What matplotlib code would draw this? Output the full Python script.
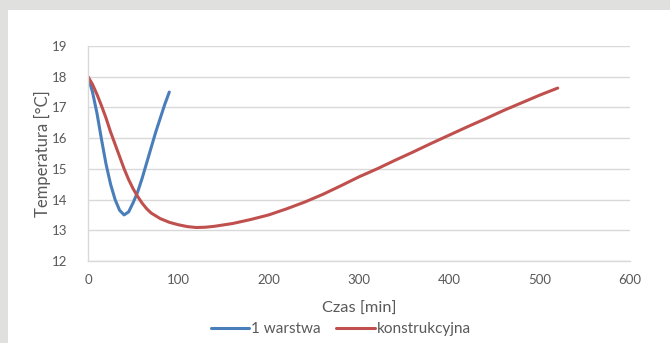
import matplotlib.pyplot as plt
from matplotlib.patches import Rectangle

# czas [min] i temperatura [°C] dla obu wariantów
czas_1w = [0, 5, 10, 15, 20, 25, 30, 35, 40, 45, 50, 55, 60, 65, 70, 75, 80, 85, 90]
temp_1w = [18.0, 17.5, 16.8, 15.95, 15.15, 14.5, 14.0, 13.65, 13.5, 13.6, 13.9, 14.25,
           14.7, 15.2, 15.7, 16.2, 16.65, 17.1, 17.5]

czas_k = [0, 5, 10, 15, 20, 25, 30, 35, 40, 45, 50, 55, 60, 65, 70, 80, 90, 100, 110,
          120, 130, 140, 160, 180, 200, 220, 240, 260, 280, 300, 320, 340, 360, 380,
          400, 420, 440, 460, 480, 500, 520]
temp_k = [18.0, 17.75, 17.42, 17.05, 16.65, 16.2, 15.8, 15.4, 15.0, 14.65, 14.35, 14.1,
          13.88, 13.7, 13.56, 13.38, 13.26, 13.18, 13.12, 13.09, 13.1, 13.13, 13.22,
          13.35, 13.5, 13.7, 13.92, 14.17, 14.45, 14.74, 15.0, 15.28, 15.55, 15.83,
          16.1, 16.37, 16.63, 16.9, 17.15, 17.4, 17.63]

etykiety = ['1 warstwa', 'konstrukcyjna']
kolory = ['#4a7ebb', '#c0504d']
szary = '#595959'

plt.rcParams['font.family'] = ['Lato', 'DejaVu Sans']

fig = plt.figure(figsize=(6.7, 3.43), dpi=100, facecolor='#e0e0de')
# białe tło wykresu
fig.patches.append(Rectangle((8 / 670, 0), 1, 1 - 10 / 343, transform=fig.transFigure,
                             facecolor='white', edgecolor='none', zorder=-10))

ax = fig.add_axes([88 / 670, 1 - 261 / 343, 542 / 670, 215 / 343])
ax.set_facecolor('white')

ax.plot(czas_1w, temp_1w, color=kolory[0], lw=2.2, label=etykiety[0],
        solid_capstyle='round', solid_joinstyle='round')
ax.plot(czas_k, temp_k, color=kolory[1], lw=2.2, label=etykiety[1],
        solid_capstyle='round', solid_joinstyle='round')

ax.set_xlim(0, 600)
ax.set_ylim(12, 19)
ax.set_xticks(range(0, 601, 100))
ax.set_yticks(range(12, 20))
ax.grid(axis='y', color='#d9d9d9', lw=1)
ax.set_axisbelow(True)

for s in ['top', 'right']:
    ax.spines[s].set_visible(False)
for s in ['left', 'bottom']:
    ax.spines[s].set_color('#d9d9d9')
    ax.spines[s].set_linewidth(1)

ax.tick_params(length=0, colors=szary, labelsize=9.5)
ax.tick_params(axis='y', pad=15)
ax.tick_params(axis='x', pad=9)

ax.set_xlabel('Czas [min]', color=szary, fontsize=11.8, va='center')
ax.set_ylabel('Temperatura [°C]', color=szary, fontsize=12, va='center')
ax.xaxis.set_label_coords(0.5, (261 - 309) / 215)
ax.yaxis.set_label_coords((42 - 88) / 542, 0.5)

fig.legend(loc='center', bbox_to_anchor=(341 / 670, 1 - 329 / 343), ncol=2,
           frameon=False, fontsize=11, labelcolor=szary, handlelength=2.5,
           handletextpad=0.15, columnspacing=1.0, borderpad=0)

fig.savefig('out.png', dpi=100, facecolor=fig.get_facecolor())
